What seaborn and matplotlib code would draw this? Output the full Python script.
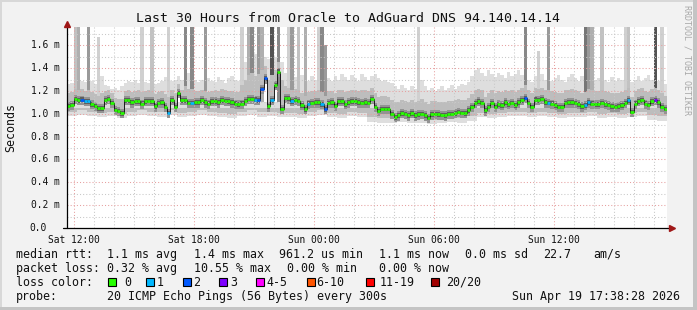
import numpy as np
import pandas as pd
import matplotlib
matplotlib.use("Agg")
import matplotlib.pyplot as plt
import seaborn as sns
from matplotlib.patches import Rectangle
from matplotlib.transforms import blended_transform_factory

# ---------------- data ----------------
title = "Last 30 Hours from Oracle to AdGuard DNS 94.140.14.14"
x_tick_hours = [0, 6, 12, 18, 24]
x_tick_labels = ["Sat 12:00", "Sat 18:00", "Sun 00:00", "Sun 06:00", "Sun 12:00"]
y_ticks = [0.0, 0.2, 0.4, 0.6, 0.8, 1.0, 1.2, 1.4, 1.6]

# median rtt (ms), one value per 10 minutes, starting Sat 11:40
median_ms = [
    1.07, 1.08, 1.13, 1.12, 1.125, 1.11, 1.11, 1.085, 1.07, 1.05, 1.05, 1.12, 1.13, 1.095, 1.035, 1.025, 1.005, 1.12, 1.12, 1.10,
    1.11, 1.11, 1.09, 1.11, 1.115, 1.11, 1.065, 1.095, 1.10, 1.06, 1.01, 1.12, 1.06, 1.18, 1.12, 1.12, 1.095, 1.095, 1.10, 1.10,
    1.12, 1.10, 1.09, 1.11, 1.11, 1.10, 1.12, 1.115, 1.11, 1.10, 1.09, 1.085, 1.09, 1.115, 1.13, 1.13, 1.125, 1.12, 1.22, 1.31,
    1.065, 1.12, 1.25, 1.37, 1.045, 1.14, 1.135, 1.11, 1.12, 1.115, 1.075, 1.04, 1.09, 1.095, 1.10, 1.10, 1.085, 1.04, 1.095, 1.10,
    1.07, 1.11, 1.11, 1.085, 1.10, 1.11, 1.11, 1.10, 1.095, 1.10, 1.095, 1.13, 1.06, 1.025, 1.045, 1.045, 1.045, 1.00, 0.972, 0.986,
    1.006, 1.00, 0.986, 1.006, 0.986, 0.995, 1.00, 0.986, 0.966, 0.995, 1.00, 0.995, 0.99, 0.986, 1.00, 1.00, 1.006, 1.016, 1.01, 1.006,
    1.03, 1.06, 1.098, 1.11, 1.098, 1.03, 1.06, 1.095, 1.06, 1.085, 1.075, 1.10, 1.085, 1.095, 1.075, 1.10, 1.118, 1.14, 1.095, 1.06,
    1.125, 1.12, 1.13, 1.10, 1.095, 1.09, 1.075, 1.06, 1.06, 1.095, 1.10, 1.10, 1.095, 1.085, 1.065, 1.075, 1.10, 1.09, 1.085, 1.085,
    1.095, 1.085, 1.08, 1.065, 1.06, 1.065, 1.075, 1.095, 1.118, 1.016, 1.09, 1.11, 1.118, 1.09, 1.08, 1.11, 1.118, 1.10, 1.06, 1.045,
]
# lost pings (of 20) per 10-minute sample
loss_count = [
    0, 0, 0, 0, 2, 1, 1, 0, 0, 0, 0, 0, 0, 0, 0, 0, 0, 0, 0, 0,
    0, 0, 0, 0, 0, 0, 0, 0, 0, 0, 1, 0, 0, 0, 0, 0, 0, 1, 0, 0,
    0, 0, 0, 0, 0, 0, 0, 0, 0, 0, 0, 0, 0, 0, 0, 0, 1, 2, 2, 2,
    0, 1, 0, 0, 0, 0, 0, 1, 0, 0, 0, 0, 1, 0, 0, 0, 1, 2, 0, 0,
    0, 0, 0, 0, 0, 0, 0, 0, 0, 0, 0, 0, 0, 0, 0, 0, 0, 0, 0, 0,
    0, 0, 0, 0, 0, 0, 0, 0, 0, 0, 0, 0, 0, 0, 0, 0, 0, 0, 0, 0,
    0, 0, 0, 0, 0, 0, 0, 0, 0, 0, 0, 0, 0, 0, 0, 0, 0, 2, 0, 0,
    0, 0, 0, 0, 1, 0, 0, 0, 0, 0, 0, 0, 0, 0, 0, 1, 1, 0, 0, 0,
    0, 0, 0, 0, 0, 0, 0, 0, 1, 0, 0, 0, 0, 0, 0, 0, 3, 0, 0, 0,
]

# upper smoke (ms) per 10-minute sample: top of light smoke, top of mid smoke
smoke_hi = [
    1.26, 1.27, 1.30, 1.31, 1.29, 1.28, 1.30, 1.29, 1.26, 1.27, 1.33, 1.25, 1.24, 1.22, 1.23, 1.21, 1.24, 1.27, 1.29, 1.28,
    1.30, 1.27, 1.29, 1.28, 1.27, 1.30, 1.26, 1.27, 1.29, 1.32, 1.34, 1.29, 1.30, 1.33, 1.30, 1.38, 1.36, 1.35, 1.30, 1.28,
    1.30, 1.33, 1.31, 1.29, 1.28, 1.32, 1.30, 1.27, 1.31, 1.33, 1.30, 1.29, 1.40, 1.45, 1.50, 1.48, 1.52, 1.46, 1.55, 1.50,
    1.48, 1.52, 1.50, 1.55, 1.45, 1.36, 1.33, 1.35, 1.32, 1.30, 1.34, 1.31, 1.29, 1.33, 1.30, 1.35, 1.32, 1.30, 1.31, 1.29,
    1.33, 1.30, 1.35, 1.32, 1.30, 1.34, 1.31, 1.29, 1.35, 1.32, 1.30, 1.33, 1.35, 1.31, 1.29, 1.30, 1.28, 1.27, 1.24, 1.22,
    1.25, 1.23, 1.21, 1.24, 1.22, 1.26, 1.30, 1.24, 1.21, 1.23, 1.20, 1.22, 1.24, 1.21, 1.23, 1.25, 1.22, 1.24, 1.26, 1.25,
    1.28, 1.33, 1.38, 1.40, 1.36, 1.33, 1.38, 1.35, 1.32, 1.36, 1.34, 1.31, 1.37, 1.33, 1.35, 1.38, 1.34, 1.36, 1.30, 1.28,
    1.33, 1.31, 1.35, 1.30, 1.33, 1.29, 1.31, 1.34, 1.30, 1.28, 1.32, 1.35, 1.31, 1.29, 1.33, 1.36, 1.34, 1.32, 1.30, 1.31,
    1.34, 1.30, 1.28, 1.32, 1.29, 1.31, 1.30, 1.33, 1.36, 1.28, 1.30, 1.33, 1.29, 1.31, 1.34, 1.30, 1.32, 1.29, 1.27, 1.26,
]
smoke_mid = [
    1.18, 1.19, 1.22, 1.21, 1.22, 1.20, 1.21, 1.19, 1.17, 1.16, 1.18, 1.20, 1.21, 1.18, 1.14, 1.13, 1.13, 1.20, 1.21, 1.19,
    1.20, 1.21, 1.19, 1.20, 1.21, 1.20, 1.17, 1.19, 1.20, 1.17, 1.15, 1.21, 1.18, 1.26, 1.21, 1.24, 1.22, 1.22, 1.20, 1.20,
    1.21, 1.20, 1.19, 1.20, 1.21, 1.20, 1.22, 1.21, 1.20, 1.20, 1.19, 1.19, 1.25, 1.30, 1.34, 1.36, 1.33, 1.35, 1.38, 1.42,
    1.30, 1.34, 1.38, 1.45, 1.30, 1.24, 1.23, 1.21, 1.22, 1.21, 1.18, 1.16, 1.19, 1.20, 1.20, 1.21, 1.19, 1.16, 1.20, 1.20,
    1.18, 1.21, 1.21, 1.19, 1.20, 1.21, 1.21, 1.20, 1.21, 1.21, 1.20, 1.23, 1.18, 1.15, 1.16, 1.16, 1.15, 1.12, 1.10, 1.10,
    1.12, 1.11, 1.10, 1.12, 1.10, 1.11, 1.13, 1.10, 1.09, 1.11, 1.11, 1.10, 1.10, 1.10, 1.11, 1.11, 1.12, 1.13, 1.12, 1.12,
    1.14, 1.17, 1.21, 1.22, 1.21, 1.15, 1.18, 1.21, 1.18, 1.20, 1.19, 1.21, 1.20, 1.21, 1.19, 1.21, 1.23, 1.25, 1.21, 1.18,
    1.23, 1.22, 1.23, 1.21, 1.21, 1.20, 1.19, 1.18, 1.18, 1.21, 1.21, 1.22, 1.21, 1.20, 1.18, 1.19, 1.22, 1.21, 1.20, 1.20,
    1.21, 1.20, 1.19, 1.18, 1.18, 1.18, 1.19, 1.21, 1.23, 1.15, 1.20, 1.22, 1.23, 1.20, 1.19, 1.22, 1.23, 1.21, 1.18, 1.16,
]
# lower smoke (ms), one value per 30 minutes: bottom of light smoke, bottom of mid smoke
smoke_lo = [0.98, 0.99, 0.98, 0.97, 0.98, 0.96, 0.98, 0.99, 0.98, 0.97, 0.99, 0.97, 0.98, 0.99, 0.98, 0.97, 0.96, 0.98, 0.99, 0.97,
            0.98, 0.97, 0.97, 0.96, 0.98, 0.99, 0.97, 0.96, 0.98, 0.97, 0.93, 0.92, 0.92, 0.93, 0.92, 0.92, 0.91, 0.92, 0.93, 0.92,
            0.94, 0.97, 0.96, 0.97, 0.98, 0.98, 0.97, 0.98, 0.97, 0.96, 0.97, 0.97, 0.98, 0.96, 0.97, 0.96, 0.97, 0.98, 0.95, 0.94]
smoke_lo2 = [1.02, 1.03, 1.02, 1.01, 1.02, 1.00, 1.02, 1.03, 1.02, 1.02, 1.03, 1.01, 1.02, 1.03, 1.02, 1.01, 1.00, 1.02, 1.03, 1.02,
             1.02, 1.01, 1.01, 1.00, 1.02, 1.03, 1.01, 1.00, 1.02, 1.01, 0.97, 0.96, 0.96, 0.97, 0.96, 0.96, 0.95, 0.96, 0.97, 0.96,
             0.98, 1.01, 1.00, 1.01, 1.02, 1.02, 1.01, 1.02, 1.01, 1.00, 1.01, 1.01, 1.02, 1.00, 1.01, 1.00, 1.01, 1.02, 0.99, 0.98]

# tall outliers: sample index, top value (ms), number of pings that high
spike_idx = [2, 3, 6, 9, 22, 25, 30, 35, 37, 41, 52, 54, 55, 57, 58, 61, 63, 66, 67, 69, 71, 75, 76, 77,
             105, 137, 141, 144, 155, 156, 157, 160, 167, 168, 176, 178]
spike_top = [1.80, 1.80, 1.80, 1.67, 1.80, 1.80, 1.80, 1.80, 1.80, 1.80, 1.80, 1.80, 1.80, 1.80, 1.80, 1.80, 1.80, 1.80, 1.80, 1.80, 1.80, 1.80, 1.80, 1.60,
             1.80, 1.80, 1.55, 1.80, 1.80, 1.80, 1.80, 1.80, 1.80, 1.80, 1.80, 1.80]
spike_pings = [3, 4, 5, 2, 2, 3, 2, 6, 6, 5, 2, 4, 6, 5, 4, 9, 6, 2, 5, 3, 4, 2, 6, 5,
               2, 6, 2, 5, 7, 5, 4, 3, 2, 3, 9, 2]

loss_labels = ["0", "1", "2", "3", "4-5", "6-10", "11-19", "20/20"]
loss_colors = ["#26ff00", "#00b8ff", "#0059ff", "#7e00ff", "#ff00ff", "#ff5500", "#ff0000", "#a00000"]

legend_rows = [
    [("median rtt:", 16), ("1.1 ms avg", 107.3), ("1.4 ms max", 194.3), ("961.2 us min", 279.3),
     ("1.1 ms now", 379.3), ("0.0 ms sd", 465), ("22.7", 543.3), ("am/s", 593.3)],
    [("packet loss:", 16), ("0.32 % avg", 107.3), ("10.55 % max", 194.3), ("0.00 % min", 286.7),
     ("0.00 % now", 379.3)],
]
probe_text = "20 ICMP Echo Pings (56 Bytes) every 300s"
stamp_text = "Sun Apr 19 17:38:28 2026"

# ---------------- figure ----------------
sns.set_theme(style="white")
plt.rcParams["font.family"] = ["DejaVu Sans Mono", "DejaVu Sans"]

W, H = 697, 310
fig = plt.figure(figsize=(W / 100, H / 100), dpi=100, facecolor="#f2f2f2")
ax = fig.add_axes([67 / W, (H - 228) / H, 600 / W, (228 - 27) / H])
ax.set_facecolor("white")

step = 1 / 6
t0 = -1 / 3
n = len(median_ms)
t = t0 + np.arange(n) * step
t30 = t0 + np.arange(len(smoke_lo)) * 0.5
df = pd.DataFrame({"t": t, "median": median_ms, "loss": loss_count})


def edges(tt, vals, w):
    return np.append(tt, tt[-1] + w), np.append(vals, vals[-1])


med = np.array(median_ms)

# light smoke above / below
ax.bar(t, np.array(smoke_hi) - med, bottom=med, width=step, align="edge", color="#dedede", lw=0, zorder=1)
te, lo = edges(t30, smoke_lo, 0.5)
ax.fill_between(te, lo, 1.1, step="post", color="#dedede", lw=0, zorder=0.9)

# outliers
cmap = plt.get_cmap("Greys")
for i, top, k in zip(spike_idx, spike_top, spike_pings):
    ax.bar(t[i], top - 1.1, bottom=1.1, width=step, align="edge",
           color=cmap(0.16 + 0.065 * k), lw=0, zorder=1.2)

# mid smoke
ax.bar(t, np.array(smoke_mid) - med, bottom=med, width=step, align="edge", color="#bdbdbd", lw=0, zorder=1.4)
_, lo2 = edges(t30, smoke_lo2, 0.5)
ax.fill_between(te, lo2, 1.05, step="post", color="#bdbdbd", lw=0, zorder=1.3)

# dark core around the median
ax.bar(t, 0.08, bottom=med - 0.045, width=step, align="edge", color="#939393", lw=0, zorder=1.6)
ax.bar(t, 0.04, bottom=med - 0.022, width=step, align="edge", color="#5e5e5e", lw=0, zorder=1.7)

# median connector + loss coloured dashes
sns.lineplot(data=df, x="t", y="median", ax=ax, drawstyle="steps-post", color="#1a1a1a",
             lw=0.7, estimator=None, zorder=3, legend=False)


def loss_class(c):
    if c <= 3:
        return c
    if c <= 5:
        return 4
    if c <= 10:
        return 5
    if c < 20:
        return 6
    return 7


cols = [loss_colors[loss_class(c)] for c in loss_count]
ax.hlines(med, t, t + step, colors=cols, lw=1.9, zorder=3.2)

ax.set_xlim(t0, t0 + 30)
ax.set_ylim(0, 1.76)

# grid
ax.set_axisbelow(False)
ax.set_xticks(x_tick_hours)
ax.set_xticks(np.arange(0, 30, 1), minor=True)
ax.set_yticks(y_ticks)
ax.set_yticks(np.arange(0.1, 1.75, 0.2), minor=True)
ax.grid(which="minor", color="#c8c8c8", linestyle=(0, (1, 2)), lw=0.75)
ax.grid(which="major", color="#e6a0a0", linestyle=(0, (1, 2)), lw=0.75)
for s in ax.spines.values():
    s.set_visible(False)

ax.set_xticklabels(x_tick_labels, fontsize=6.9, color="#111111")
ax.set_yticklabels([])
ax.tick_params(axis="x", which="major", length=3, width=0.7, color="#c06060", pad=2.0, direction="out")
ax.tick_params(axis="x", which="minor", length=2, width=0.7, color="#888888", direction="out")
ax.tick_params(axis="y", which="major", length=2, width=0.7, color="#333333", direction="out", pad=0)
ax.tick_params(axis="y", which="minor", length=0)
ax.set_xlabel("")
ax.set_ylabel("")

btr = blended_transform_factory(fig.transFigure, ax.transData)
for v in y_ticks:
    if v == 0:
        ax.text(46.7 / W, v, "0.0", transform=btr, ha="right", va="center", fontsize=6.9, color="#111111")
    else:
        ax.text(60 / W, v, f"{v:.1f} m", transform=btr, ha="right", va="center", fontsize=6.9, color="#111111")

# axes lines with arrows
ax.plot([0, 0], [0, 1 + 4 / 201], transform=ax.transAxes, color="black", lw=0.9, clip_on=False, zorder=5)
ax.plot([-4 / 600, 1 + 4 / 600], [0, 0], transform=ax.transAxes, color="black", lw=0.9, clip_on=False, zorder=5)
ax.plot([0], [1 + 3 / 201], marker="^", ms=4.5, color="#a01818", transform=ax.transAxes, clip_on=False, zorder=6)
ax.plot([1 + 5 / 600], [0], marker=">", ms=4.5, color="#a01818", transform=ax.transAxes, clip_on=False, zorder=6)

# texts
fig.text(348 / W, 1 - 19 / H, title, ha="center", va="center", fontsize=9.5, color="#111111")
fig.text(11 / W, 1 - 128 / H, "Seconds", rotation=90, ha="center", va="center", fontsize=8.4, color="#111111")
fig.text(687 / W, 1 - 60 / H, "RRDTOOL / TOBI OETIKER", rotation=270, ha="center", va="center",
         fontsize=6, color="#a8a8a8")

row_y = [254.3, 268.3, 282.3, 296.3]
for row, yy in zip(legend_rows, row_y):
    for txt, xx in row:
        fig.text(xx / W, 1 - yy / H, txt, ha="left", va="center", fontsize=8.4, color="#111111")

fig.text(16 / W, 1 - row_y[2] / H, "loss color:", ha="left", va="center", fontsize=8.4, color="#111111")
box_x = [108.3, 145.7, 182.7, 219.3, 256, 306.7, 365.7, 430.7]
lab_x = [124, 156.7, 193.3, 230, 266.7, 316.7, 380, 445.7]
for c, lab, bx, lx in zip(loss_colors, loss_labels, box_x, lab_x):
    fig.add_artist(Rectangle((bx / W, 1 - (row_y[2] + 4) / H), 8 / W, 8 / H, transform=fig.transFigure,
                             facecolor=c, edgecolor="black", lw=0.8))
    fig.text(lx / W, 1 - row_y[2] / H, lab, ha="left", va="center", fontsize=8.4, color="#111111")

fig.text(16 / W, 1 - row_y[3] / H, "probe:", ha="left", va="center", fontsize=8.4, color="#111111")
fig.text(107.3 / W, 1 - row_y[3] / H, probe_text, ha="left", va="center", fontsize=8.4, color="#111111")
fig.text(680 / W, 1 - row_y[3] / H, stamp_text, ha="right", va="center", fontsize=8.4, color="#111111")

# frame
fig.add_artist(Rectangle((0, 1 - 2 / H), 1, 2 / H, transform=fig.transFigure, color="#d8d8d8", lw=0))
fig.add_artist(Rectangle((0, 0), 2 / W, 1, transform=fig.transFigure, color="#d8d8d8", lw=0))
fig.add_artist(Rectangle((0, 0), 1, 3 / H, transform=fig.transFigure, color="#c4c4c4", lw=0))
fig.add_artist(Rectangle((1 - 4 / W, 0), 4 / W, 1, transform=fig.transFigure, color="#c4c4c4", lw=0))

fig.savefig("out.png", dpi=100, facecolor=fig.get_facecolor())
